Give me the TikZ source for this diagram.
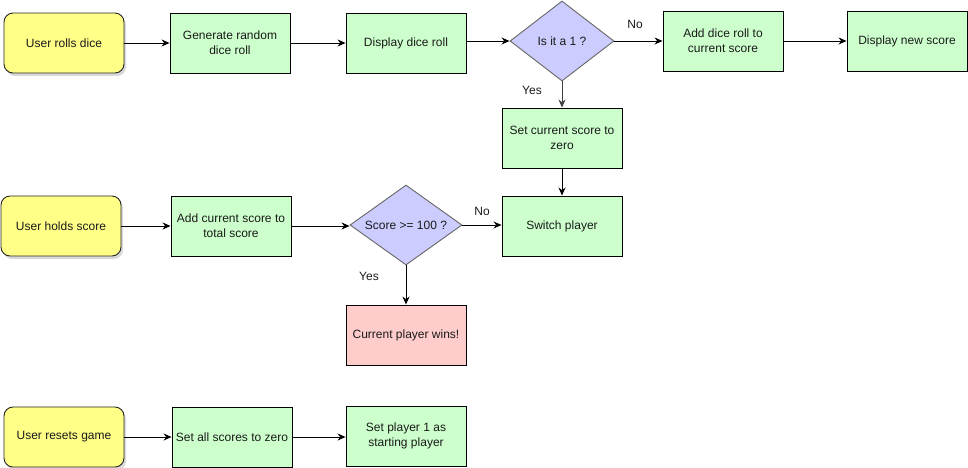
\documentclass[tikz,border=0pt]{standalone}
\usepackage{fontspec}
\setmainfont{Liberation Sans}
\usetikzlibrary{shapes.geometric,arrows.meta,shadows}
\definecolor{ylw}{HTML}{FFFF88}
\definecolor{grn}{HTML}{CCFFCC}
\definecolor{blu}{HTML}{CCCCFF}
\definecolor{rd}{HTML}{FFCCCC}
\definecolor{txt}{HTML}{1A1A1A}
\definecolor{dstroke}{HTML}{666666}
\tikzset{
  base/.style={minimum width=120pt, minimum height=60pt, inner sep=0pt, align=center, line width=0.9pt, font=\fontsize{12}{15}\selectfont, text=txt},
  userbox/.style={base, draw=black!85, fill=ylw, rounded corners=9pt, drop shadow={opacity=0.3, shadow xshift=2pt, shadow yshift=-3pt}},
  procbox/.style={base, draw=black, fill=grn},
  winbox/.style={base, draw=black, fill=rd},
  decbox/.style={diamond, draw=dstroke, fill=blu, inner sep=0pt, line width=0.9pt, font=\fontsize{12}{15}\selectfont, text=txt},
  conn/.style={draw=black, line width=0.9pt, -{Stealth[length=8pt,width=7pt]}},
  lbl/.style={font=\fontsize{12}{15}\selectfont, text=txt, inner sep=0pt}
}
\begin{document}
\begin{tikzpicture}[x=1pt,y=-1pt]
\useasboundingbox (0,0) rectangle (968,467);
\node[userbox] (roll) at (64,43) {User rolls dice};
\node[procbox] (gen) at (230,43) {Generate random\\dice roll};
\node[procbox] (disp) at (406,43) {Display dice roll};
\node[decbox, aspect=1.3, minimum width=104pt, minimum height=80pt] (d1) at (562,41) {Is it a 1 ?};
\node[procbox] (add) at (723,41) {Add dice roll to\\current score};
\node[procbox] (new) at (907,41) {Display new score};
\node[procbox] (zero) at (562,138) {Set current score to\\zero};
\node[procbox] (switch) at (562,226) {Switch player};
\node[userbox] (hold) at (61,226) {User holds score};
\node[procbox] (addc) at (231,226) {Add current score to\\total score};
\node[decbox, aspect=1.4, minimum width=112pt, minimum height=80pt] (d2) at (406,225) {Score >= 100 ?};
\node[winbox] (win) at (406,335) {Current player wins!};
\node[userbox] (reset) at (64,437) {User resets game};
\node[procbox] (setall) at (232,437) {Set all scores to zero};
\node[procbox] (setp) at (406,436) {Set player 1 as\\starting player};

\draw[conn] (roll) -- (gen);
\draw[conn] (gen) -- (disp);
\draw[conn] (disp.east |- d1.west) -- (d1.west);
\draw[conn] (d1.east) -- (d1.east -| add.west);
\draw[conn] (add) -- (new);
\draw[conn, draw=black!75] (d1.south) -- (zero.north);
\draw[conn] (zero) -- (switch);
\draw[conn] (hold) -- (addc);
\draw[conn] (addc.east) -- (addc.east -| d2.west);
\draw[conn] (d2.east) -- (d2.east -| switch.west);
\draw[conn] (d2.south) -- (win.north);
\draw[conn] (reset) -- (setall);
\draw[conn] (setall.east) -- (setall.east -| setp.west);

\node[lbl] (no1) at (635,24) {No};
\node[lbl] (yes1) at (532,90) {Yes};
\node[lbl] (no2) at (482,211) {No};
\node[lbl] (yes2) at (369,276) {Yes};
\end{tikzpicture}
\end{document}
